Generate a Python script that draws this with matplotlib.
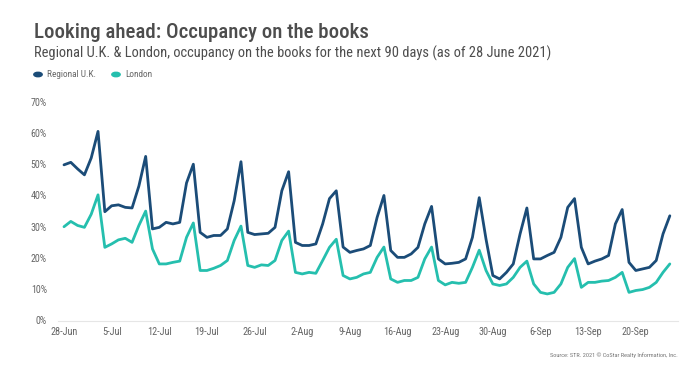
import matplotlib
matplotlib.use("Agg")
import matplotlib.pyplot as plt
import numpy as np
from matplotlib import font_manager

# ---- data (occupancy %, daily from 28 Jun 2021 for 90 days) ----
regional_uk = [49.8, 50.6, 48.5, 46.6, 52.0, 60.5, 34.8, 36.7, 37.0, 36.2,
               36.0, 43.0, 52.5, 29.3, 29.8, 31.4, 30.9, 31.4, 44.0, 50.0,
               28.2, 26.6, 27.2, 27.2, 29.3, 38.3, 50.8, 28.2, 27.5, 27.7,
               27.9, 29.8, 41.5, 47.6, 25.0, 24.0, 24.0, 24.5, 30.9, 39.0,
               41.5, 23.5, 21.8, 22.4, 22.9, 24.0, 33.0, 40.0, 22.4, 20.2,
               20.2, 21.3, 23.4, 30.9, 36.5, 19.7, 18.1, 18.3, 18.6, 19.7,
               26.6, 39.3, 26.0, 14.4, 13.3, 15.4, 18.1, 27.7, 36.0, 19.7,
               19.7, 20.8, 21.8, 26.6, 36.2, 39.0, 23.4, 18.1, 19.0, 19.7,
               20.8, 30.9, 35.5, 18.6, 16.0, 16.5, 17.0, 19.2, 27.7, 33.5]
london = [30.0, 31.7, 30.4, 29.8, 34.0, 40.2, 23.4, 24.5, 25.8, 26.3,
          25.0, 30.4, 35.0, 22.9, 18.1, 18.1, 18.6, 19.0, 26.6, 31.2,
          16.0, 16.0, 16.7, 17.6, 19.2, 25.6, 30.2, 17.6, 17.0, 17.8,
          17.6, 19.2, 25.6, 28.6, 15.4, 14.9, 15.4, 15.1, 19.2, 23.4,
          26.0, 14.4, 13.3, 13.8, 14.9, 15.4, 20.2, 23.5, 13.3, 12.2,
          12.8, 12.8, 13.8, 19.7, 23.5, 12.8, 11.4, 12.2, 11.9, 12.2,
          17.0, 22.5, 16.0, 11.7, 11.2, 11.7, 13.8, 17.0, 19.0, 11.7,
          9.0, 8.5, 9.0, 11.7, 17.0, 19.8, 10.6, 12.2, 12.2, 12.6,
          12.8, 13.8, 15.4, 9.0, 9.6, 9.9, 10.6, 12.2, 15.4, 18.1]
tick_labels = ["28-Jun", "5-Jul", "12-Jul", "19-Jul", "26-Jul", "2-Aug", "9-Aug",
               "16-Aug", "23-Aug", "30-Aug", "6-Sep", "13-Sep", "20-Sep"]
y_ticks = [0, 10, 20, 30, 40, 50, 60, 70]

# ---- fonts ----
avail = {f.name for f in font_manager.fontManager.ttflist}
prefs = ["Roboto Condensed", "Barlow Semi Condensed", "Fira Sans Condensed",
         "Asap Condensed", "Archivo Narrow", "Liberation Sans Narrow"]
cond = [f for f in prefs if f in avail][:1]
plt.rcParams["font.family"] = cond + ["DejaVu Sans"]

NAVY = "#1b4c78"
TEAL = "#25bfae"
TXT = "#4d4d4d"
GRAY = "#666666"

W, H = 700, 367
fig = plt.figure(figsize=(7.0, 3.67), dpi=100)
ax = fig.add_axes([58 / W, 1 - 320.5 / H, (678 - 58) / W, (320.5 - 101.7) / H])

days = np.arange(len(regional_uk))
ax.plot(days, regional_uk, color=NAVY, lw=2.0, solid_joinstyle="round", solid_capstyle="round")
ax.plot(days, london, color=TEAL, lw=2.0, solid_joinstyle="round", solid_capstyle="round")

ax.set_xlim(-0.88, 90.2)
ax.set_ylim(0, 70)
ax.set_yticks(y_ticks)
ax.set_yticklabels([f"{v}%" for v in y_ticks])
ax.set_xticks(np.arange(len(tick_labels)) * 7)
ax.set_xticklabels(tick_labels)
ax.tick_params(axis="both", length=0, labelsize=8.5, labelcolor=GRAY)
ax.tick_params(axis="y", pad=8)
ax.tick_params(axis="x", pad=5)
for s in ["top", "right", "left"]:
    ax.spines[s].set_visible(False)
ax.spines["bottom"].set_color("#e6e6e6")
ax.spines["bottom"].set_linewidth(0.8)

title = fig.text(34 / W, 1 - 37.5 / H, "Looking ahead: Occupancy on the books", fontsize=17,
                 color=TXT, ha="left", va="baseline", weight="medium")
sub = fig.text(34 / W, 1 - 58 / H,
               "Regional U.K. & London, occupancy on the books for the next 90 days (as of 28 June 2021)",
               fontsize=11.5, color=TXT, ha="left", va="baseline")

# legend
ly = 1 - 74.5 / H
fig.patches.append(plt.Circle((38 / W, ly), 4.2 / W, transform=fig.transFigure, color=NAVY, figure=fig))
leg1 = fig.text(47 / W, ly, "Regional U.K.", fontsize=7.5, color=GRAY, va="center", ha="left")
fig.patches.append(plt.Circle((116 / W, ly), 4.2 / W, transform=fig.transFigure, color=TEAL, figure=fig))
leg2 = fig.text(125 / W, ly, "London", fontsize=7.5, color=GRAY, va="center", ha="left")

src = fig.text(678 / W, 1 - 357 / H, "Source: STR. 2021 \u00a9 CoStar Realty Information, Inc.",
               fontsize=5.5, color="#777777", ha="right", va="baseline")

# fit text widths to the reference
r = fig.canvas.get_renderer()
def fit(t, target):
    for _ in range(3):
        w = t.get_window_extent(r).width
        t.set_fontsize(t.get_fontsize() * target / w)
fit(title, 335)
fit(sub, 514)
fit(leg1, 49)
fit(src, 127)
leg2.set_fontsize(leg1.get_fontsize())
# tick labels
fig.canvas.draw()
xl = ax.get_xticklabels()[0]
s = xl.get_fontsize() * 27 / xl.get_window_extent(r).width
ax.tick_params(axis="x", labelsize=s)
yl = ax.get_yticklabels()[-1]
s2 = yl.get_fontsize() * 16 / yl.get_window_extent(r).width
ax.tick_params(axis="y", labelsize=s2)

fig.savefig("out.png", dpi=100, facecolor="white")
